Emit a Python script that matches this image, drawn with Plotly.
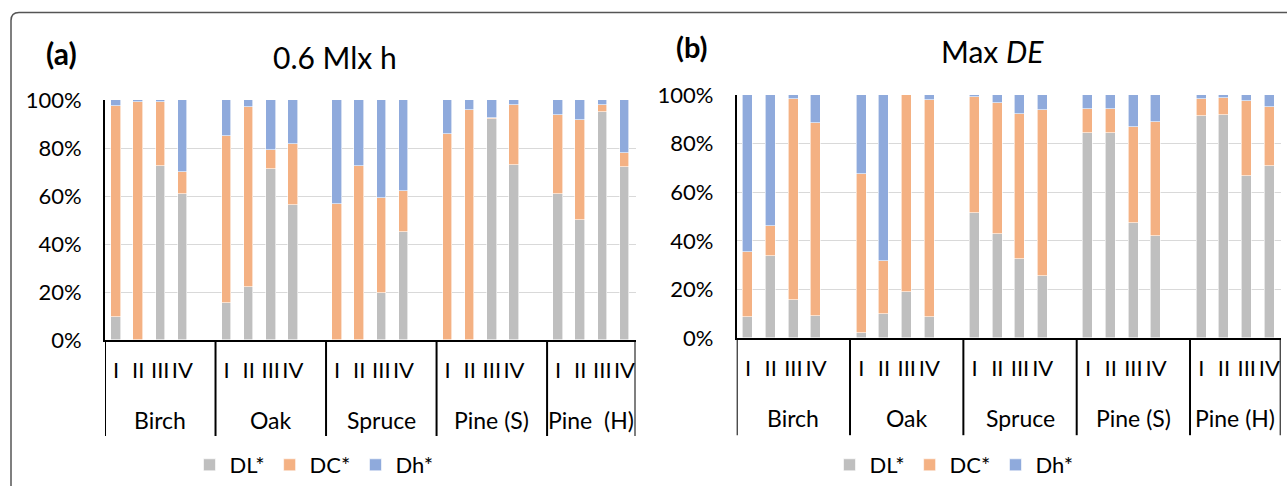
import plotly.graph_objects as go

W, H = 1287, 486

species_a = ["Birch", "Oak", "Spruce", "Pine (S)", "Pine  (H)"]
species_b = ["Birch", "Oak", "Spruce", "Pine (S)", "Pine (H)"]
treatments = ["I", "II", "III", "IV"]
series_names = ["DL*", "DC*", "Dh*"]
series_colors = ["#BFBFBF", "#F4B183", "#8FAADC"]

# Panel (a) 0.6 Mlx h  (% share of each component, per species x treatment)
a_DL = [9.4, 0.0, 72.6, 60.7,  15.4, 22.2, 71.3, 56.2,  0.0, 0.0, 19.6, 45.0,  0.0, 0.0, 91.9, 73.0,  61.0, 49.9, 94.8, 71.9]
a_DC = [88.2, 99.3, 26.4, 9.2,  69.8, 75.0, 8.0, 25.3,  56.5, 72.4, 39.4, 17.2,  85.7, 95.9, 0.8, 25.0,  32.6, 41.8, 3.1, 5.9]
a_Dh = [2.4, 0.7, 1.0, 30.1,  14.8, 2.8, 20.7, 18.5,  43.5, 27.6, 41.0, 37.8,  14.3, 4.1, 7.3, 2.0,  6.4, 8.3, 2.1, 22.2]

# Panel (b) Max DE
b_DL = [8.7, 33.9, 15.6, 9.0,  2.1, 9.8, 18.9, 8.5,  51.5, 42.6, 32.4, 25.6,  84.3, 84.4, 47.5, 41.9,  91.2, 91.6, 66.8, 70.8]
b_DC = [26.8, 12.0, 82.7, 79.6,  65.3, 22.0, 81.1, 89.4,  47.7, 54.1, 59.7, 68.1,  9.9, 9.7, 39.3, 47.1,  7.1, 7.3, 30.6, 24.2]
b_Dh = [64.5, 54.1, 1.7, 11.4,  32.6, 68.2, 0.0, 2.1,  0.8, 3.3, 7.9, 6.3,  5.8, 5.9, 13.2, 11.0,  1.7, 1.1, 2.6, 5.0]

FONT = "Lato"


def px(x):
    return x / W


def py(y):
    return 1 - y / H


# slot positions: 4 bars per species + one empty slot between species
xpos = [5 * g + t for g in range(len(species_a)) for t in range(len(treatments))]
xtext = [treatments[t] for g in range(len(species_a)) for t in range(len(treatments))]
nslots = 5 * len(species_a) - 1

fig = go.Figure()

panels = [
    ("x", "y", "legend", [a_DL, a_DC, a_Dh]),
    ("x2", "y2", "legend2", [b_DL, b_DC, b_Dh]),
]
for xa, ya, lg, vals in panels:
    for name, color, v in zip(series_names, series_colors, vals):
        fig.add_trace(go.Bar(
            x=xpos, y=[val / 100 for val in v], name=name,
            marker=dict(color=color, line=dict(color="white", width=0.6)),
            width=0.43, xaxis=xa, yaxis=ya, legend=lg,
        ))

axis_common_y = dict(
    range=[0, 1], dtick=0.2, tickformat=".0%", showgrid=True,
    gridcolor="#D9D9D9", gridwidth=1.3, showline=True, linecolor="black",
    linewidth=2, zeroline=False, ticks="", ticklabelstandoff=17,
    tickfont=dict(family=FONT, size=22, color="black"), automargin=False,
    fixedrange=True,
)
axis_common_x = dict(
    range=[-0.5, nslots - 0.5], tickmode="array", tickvals=xpos, ticktext=xtext,
    tickangle=0, showgrid=False, showline=True, linecolor="black", linewidth=2,
    zeroline=False, ticks="", ticklabelstandoff=10,
    tickfont=dict(family=FONT, size=22, color="black"), automargin=False,
    fixedrange=True,
)

fig.update_layout(
    width=W, height=H, template="none",
    paper_bgcolor="white", plot_bgcolor="white",
    margin=dict(l=0, r=0, t=0, b=0),
    barmode="stack", bargap=0,
    font=dict(family=FONT, color="black"),
    xaxis=dict(domain=[px(105), px(635.5)], anchor="y", **axis_common_x),
    yaxis=dict(domain=[py(340), py(100)], anchor="x", **axis_common_y),
    xaxis2=dict(domain=[px(736.7), px(1280.7)], anchor="y2", **axis_common_x),
    yaxis2=dict(domain=[py(338), py(95)], anchor="x2", **axis_common_y),
    legend=dict(orientation="h", x=px(314), xanchor="center", y=0,
                yanchor="bottom", font=dict(family=FONT, size=22),
                bgcolor="rgba(0,0,0,0)", traceorder="normal"),
    legend2=dict(orientation="h", x=px(954), xanchor="center", y=0,
                 yanchor="bottom", font=dict(family=FONT, size=22),
                 bgcolor="rgba(0,0,0,0)", traceorder="normal"),
    showlegend=True,
)

# group dividers below the axis and species labels
for xa, ya, names, depth, lab in [("x", "y", species_a, -0.4, -0.335), ("x2", "y2", species_b, -0.4, -0.33)]:
    bounds = [-0.5] + [5 * g + 4.5 for g in range(len(names) - 1)] + [nslots - 0.5]
    for b in bounds:
        fig.add_shape(type="line", xref=xa, yref=ya + " domain", x0=b, x1=b,
                      y0=depth, y1=0, line=dict(color="black", width=2))
    for g, nm in enumerate(names):
        center = (bounds[g] + bounds[g + 1]) / 2
        fig.add_annotation(text=nm, xref=xa, yref=ya + " domain", x=center, y=lab,
                           showarrow=False, yanchor="middle", xanchor="center",
                           font=dict(family=FONT, size=23, color="black"))

# titles and panel letters
fig.add_annotation(text="0.6 Mlx h", xref="paper", yref="paper", x=px(335), y=py(57),
                   xanchor="center", yanchor="middle",
                   showarrow=False, font=dict(family=FONT, size=30, color="black"))
fig.add_annotation(text="Max <i>DE</i>", xref="paper", yref="paper", x=px(992), y=py(51),
                   xanchor="center", yanchor="middle",
                   showarrow=False, font=dict(family=FONT, size=30, color="black"))
fig.add_annotation(text="<b>(a)</b>", xref="paper", yref="paper", x=px(61), y=py(53),
                   xanchor="center", yanchor="middle",
                   showarrow=False, font=dict(family=FONT, size=30, color="black"))
fig.add_annotation(text="<b>(b)</b>", xref="paper", yref="paper", x=px(692), y=py(46),
                   xanchor="center", yanchor="middle",
                   showarrow=False, font=dict(family=FONT, size=29, color="black"))

# rounded outer frame (top and left edges visible)
r = 8
frame = (f"M {px(11)} {py(H + 5)} L {px(11)} {py(12.5 + r)} "
         f"Q {px(11)} {py(12.5)} {px(11 + r)} {py(12.5)} L {px(W + 5)} {py(12.5)}")
fig.add_shape(type="path", xref="paper", yref="paper", path=frame,
              line=dict(color="#555555", width=1.5))

fig.write_html("out.html", config={"displayModeBar": False},
               post_script="document.body.style.margin='0px';document.body.style.overflow='hidden';")
